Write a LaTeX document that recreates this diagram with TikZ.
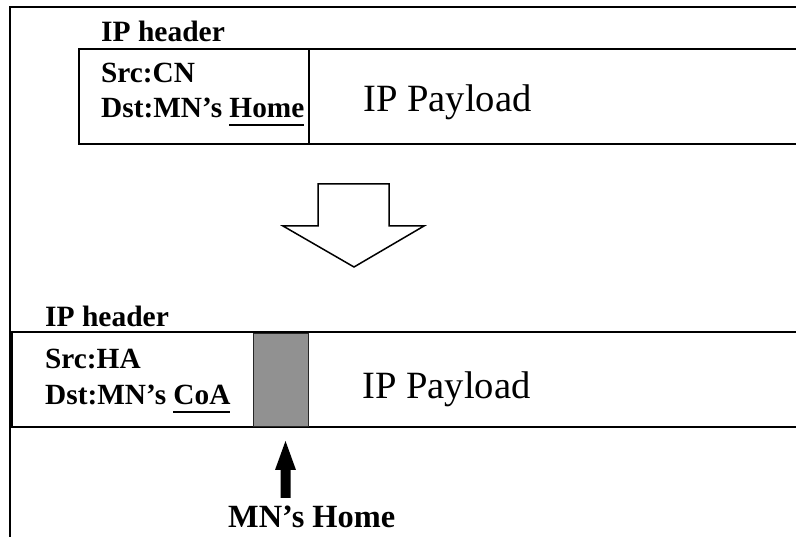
\documentclass[tikz,border=0pt]{standalone}
\usepackage{fontspec}
\setmainfont{Liberation Serif}
\newcommand\myul[1]{\setbox0\hbox{#1}\rlap{\rule[-8pt]{\wd0}{1.8pt}}\box0}
\begin{document}
\begin{tikzpicture}[x=1pt,y=-1pt,
  frameline/.style={line width=2pt,line cap=rect},
  boxline/.style={line width=1.5pt},
  hdr/.style={anchor=base west,inner sep=0pt,font=\fontsize{29.5}{31}\selectfont\bfseries},
  fld/.style={anchor=base west,inner sep=0pt,font=\fontsize{29.3}{31}\selectfont\bfseries},
  pay/.style={anchor=base west,inner sep=0pt,font=\fontsize{38.6}{41}\selectfont}]
\useasboundingbox (0,0) rectangle (796,537);
% frame
\coordinate (fbl) at (10,540);
\coordinate (ftl) at (10,7);
\coordinate (ftr) at (800,7);
\draw[frameline] (fbl) -- (ftl) -- (ftr);
% top packet
\coordinate (t1) at (800,49);
\coordinate (t2) at (79,49);
\coordinate (t3) at (79,144);
\coordinate (t4) at (800,144);
\coordinate (td1) at (309,49);
\coordinate (td2) at (309,144);
\draw[boxline] (t1) -- (t2) -- (t3) -- (t4);
\draw[boxline] (td1) -- (td2);
\node[hdr] (hdrA) at (101,42) {IP header};
\node[fld] (srcA) at (101,83) {Src:CN};
\node[fld] (dstA) at (101,118) {Dst:MN’s \myul{Home}};
\node[pay] (payA) at (363,112) {IP Payload};
% down arrow
\draw[boxline,line join=miter,fill=white] (318,184) -- (389,184) -- (389,226) -- (424,226) -- (354,267) -- (283,226) -- (318,226) -- cycle;
% bottom packet
\coordinate (b1) at (800,332);
\coordinate (b2) at (12,332);
\coordinate (b3) at (12,427);
\coordinate (b4) at (800,427);
\draw[boxline] (b1) -- (b2) -- (b3) -- (b4);
\node[draw=black!85,line width=1.7pt,fill=black!43,minimum width=55pt,minimum height=93pt,inner sep=0pt] (inner) at (281,380) {};
\node[hdr] (hdrB) at (45,327) {IP header};
\node[fld] (srcB) at (45,369) {Src:HA};
\node[fld] (dstB) at (45,405) {Dst:MN’s \myul{CoA}};
\node[pay] (payB) at (362,399) {IP Payload};
% up arrow and label
\node[anchor=base west,inner sep=0pt,font=\fontsize{32.4}{34}\selectfont\bfseries] (home) at (228,527) {MN’s Home};
\coordinate (ashaft) at (285.5,498);
\fill (280.5,498) -- (280.5,470) -- (275,470) -- (285.5,441) -- (296,470) -- (290.5,470) -- (290.5,498) -- cycle;
\end{tikzpicture}
\end{document}
